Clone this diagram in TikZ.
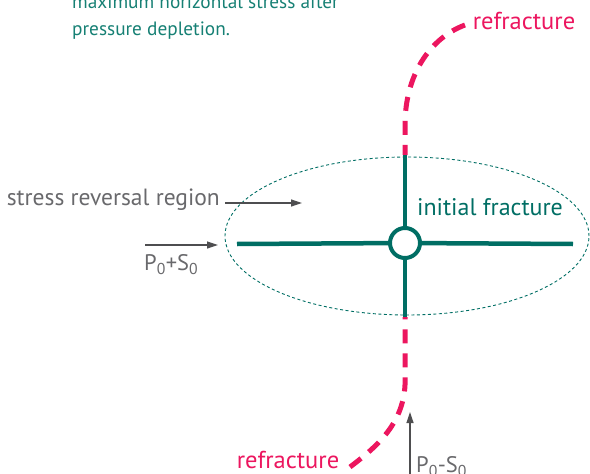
\documentclass[tikz,border=0pt]{standalone}
\usepackage{fontspec}
\setmainfont{PT Sans}
\usetikzlibrary{arrows.meta,positioning,shapes.geometric}
\definecolor{fracteal}{RGB}{0,110,100}
\definecolor{noteteal}{RGB}{22,128,116}
\definecolor{refracred}{RGB}{236,22,95}
\definecolor{labelgray}{RGB}{105,105,108}
\definecolor{arrowgray}{RGB}{78,78,80}

\begin{document}
\begin{tikzpicture}[
    x=1pt, y=-1pt,
    fracture/.style={draw=fracteal, line width=4.5pt},
    refrac/.style={draw=refracred, line width=5pt, dash pattern=on 14pt off 10pt},
    region/.style={ellipse, draw=fracteal, line width=0.9pt, dash pattern=on 3pt off 2.5pt, minimum width=364pt, minimum height=158pt, inner sep=0pt},
    well/.style={circle, draw=fracteal, line width=4pt, fill=white, minimum size=30pt, inner sep=0pt},
    load/.style={draw=arrowgray, line width=1.2pt, -{Triangle[length=11pt,width=7pt]}},
    graytext/.style={text=labelgray, font=\fontsize{23.5}{28}\selectfont, inner sep=1pt},
    redtext/.style={text=refracred, font=\fontsize{24.5}{28}\selectfont, inner sep=1pt},
]
    \useasboundingbox (0,0) rectangle (590,474);

    % Stress reversal region
    \node[region] (zone) at (407,236) {};

    % Refractures
    \coordinate (ftop) at (405,155);
    \coordinate (fbot) at (405,317);
    \coordinate (rtopbend) at (405,125);
    \coordinate (rtopend) at (465,25);
    \coordinate (rbotbend) at (405,385);
    \coordinate (rbotend) at (350,467);
    \draw[refrac] (rtopend) .. controls (430,38) and (405,75) .. (rtopbend) -- (ftop);
    \draw[refrac] (rbotend) .. controls (375,448) and (403,425) .. (rbotbend) -- (fbot);

    % Initial fracture
    \node[well] (wellbore) at (405,243) {};
    \coordinate (fleft) at (237,244);
    \coordinate (fright) at (573,244);
    \draw[fracture] (wellbore) -- (ftop);
    \draw[fracture] (wellbore) -- (fbot);
    \draw[fracture] (wellbore) -- (fleft);
    \draw[fracture] (wellbore) -- (fright);

    % Labels
    \node[text=noteteal, font=\fontsize{19.3}{27}\selectfont, align=left, anchor=south west, inner sep=0pt] (note) at (72,40) {maximum horizontal stress after\\pressure depletion.};
    \node[redtext] (reftop) at (524,21) {refracture};
    \node[redtext] (refbot) at (288,460) {refracture};
    \node[text=fracteal, font=\fontsize{24}{28}\selectfont, inner sep=1pt] (initlabel) at (490,207) {initial fracture};
    \node[graytext, anchor=east] (revlabel) at (221,200) {stress reversal region};

    % Loads
    \coordinate (revtip) at (302,203);
    \draw[load] (revlabel.east |- revtip) ++(4,0) -- (revtip);
    \coordinate (hload) at (145,245);
    \coordinate (htip) at (218,245);
    \draw[load] (hload) -- (htip);
    \node[graytext, font=\fontsize{22.5}{26}\selectfont, below right=8pt and -2pt of hload] (pplus) {P\textsubscript{0}+S\textsubscript{0}};
    \coordinate (vload) at (410,480);
    \coordinate (vtip) at (410,412);
    \draw[load] (vload) -- (vtip);
    \node[graytext, font=\fontsize{22.5}{26}\selectfont, anchor=west] (pminus) at (415,467) {P\textsubscript{0}-S\textsubscript{0}};

\end{tikzpicture}
\end{document}
